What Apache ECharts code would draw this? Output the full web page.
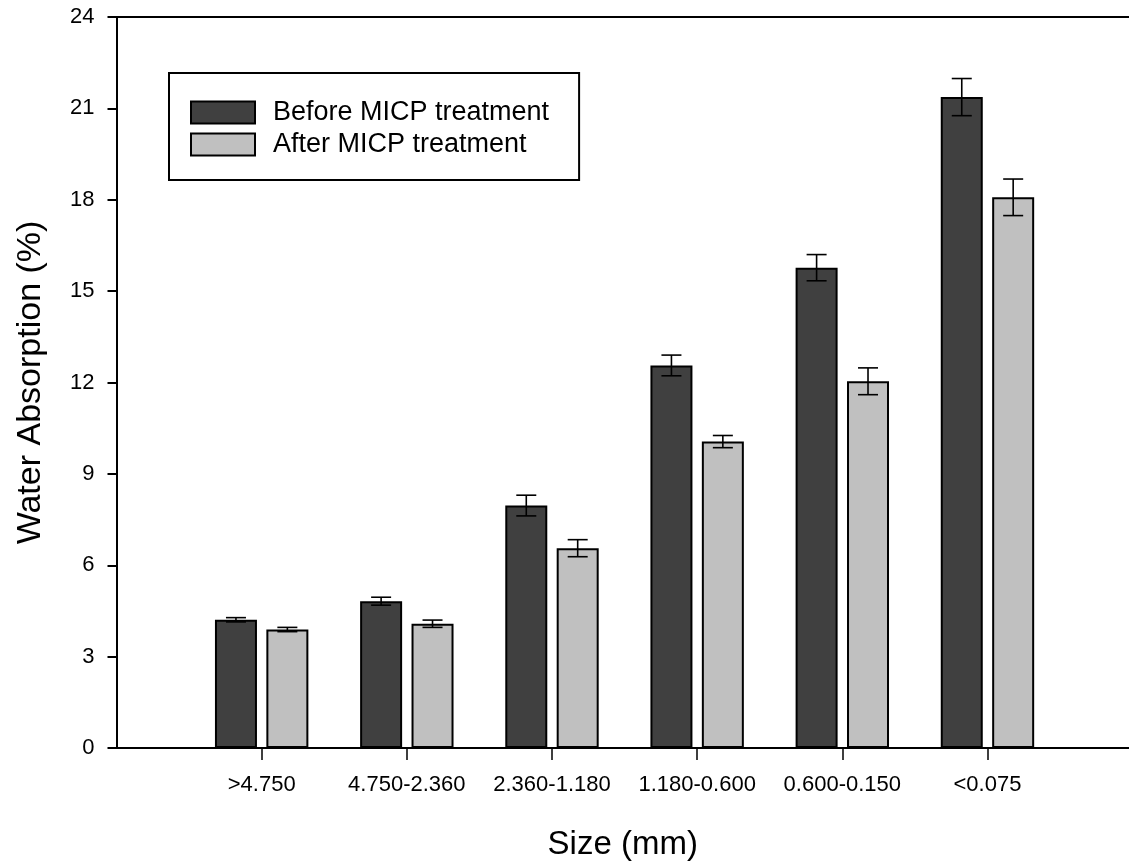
<!DOCTYPE html>
<html>
<head>
<meta charset="utf-8">
<script src="https://cdn.jsdelivr.net/npm/echarts@6/dist/echarts.min.js"></script>
<style>
html,body{margin:0;padding:0;background:#fff;}
#chart{width:1129px;height:866px;}
</style>
</head>
<body>
<div id="chart"></div>
<script>
const categories = ['>4.750', '4.750-2.360', '2.360-1.180', '1.180-0.600', '0.600-0.150', '<0.075'];
const beforeValues = [4.21, 4.82, 7.96, 12.56, 15.77, 21.37];
const beforeErrors = [0.07, 0.13, 0.34, 0.34, 0.43, 0.61];
const afterValues = [3.89, 4.08, 6.56, 10.06, 12.04, 18.08];
const afterErrors = [0.07, 0.12, 0.28, 0.20, 0.44, 0.60];
const yTicks = [0, 3, 6, 9, 12, 15, 18, 21, 24];

const FONT = 'Liberation Sans, Arial, sans-serif';
const positions = categories.map((c, i) => i + 1);
const X_MAX = 6.975;
const BAR_W = 42;
const BAR_GAP = 0.224;
const OFFSET = (BAR_W + BAR_W * BAR_GAP) / 2;

function barData(vals) { return vals.map((v, i) => [positions[i], v]); }
function errData(vals, errs) { return vals.map((v, i) => [positions[i], v, errs[i]]); }

function errRender(offset) {
  return function (params, api) {
    const x = api.value(0), y = api.value(1), e = api.value(2);
    const c = api.coord([x, y]);
    const cx = c[0] + offset;
    const top = api.coord([x, y + e])[1];
    const bot = api.coord([x, y - e])[1];
    const hw = 10;
    const style = { stroke: '#000', lineWidth: 1.6 };
    return {
      type: 'group',
      children: [
        { type: 'line', shape: { x1: cx, y1: top, x2: cx, y2: bot }, style: style },
        { type: 'line', shape: { x1: cx - hw, y1: top, x2: cx + hw, y2: top }, style: style },
        { type: 'line', shape: { x1: cx - hw, y1: bot, x2: cx + hw, y2: bot }, style: style }
      ]
    };
  };
}

const chart = echarts.init(document.getElementById('chart'));
chart.setOption({
  animation: false,
  backgroundColor: '#fff',
  textStyle: { fontFamily: FONT, color: '#000' },
  grid: { left: 116.5, right: 0, top: 17, bottom: 117, show: false },
  legend: {
    orient: 'vertical',
    left: 169, top: 73,
    padding: [26, 30, 22, 21],
    borderColor: '#000', borderWidth: 2,
    itemWidth: 64, itemHeight: 22, itemGap: 5,
    icon: 'rect',
    textStyle: { fontFamily: FONT, fontSize: 27, color: '#000', padding: [0, 0, 0, 13] },
    data: ['Before MICP treatment', 'After MICP treatment']
  },
  xAxis: [{
    type: 'value', min: 0, max: X_MAX, position: 'bottom',
    splitLine: { show: false },
    axisLine: { onZero: false, lineStyle: { color: '#000', width: 2 } },
    axisTick: { show: true, length: 12, inside: false, customValues: positions, lineStyle: { color: '#000', width: 1.5 } },
    axisLabel: {
      customValues: positions,
      formatter: v => categories[Math.round(v) - 1] || '',
      fontSize: 22, color: '#000', margin: 26, fontFamily: FONT
    },
    name: 'Size (mm)', nameLocation: 'middle', nameGap: 80,
    nameTextStyle: { fontSize: 33, color: '#000', fontFamily: FONT }
  }, {
    type: 'value', min: 0, max: X_MAX, position: 'top',
    splitLine: { show: false },
    axisLine: { show: true, onZero: false, lineStyle: { color: '#000', width: 2 } },
    axisTick: { show: false },
    axisLabel: { show: false }
  }],
  yAxis: {
    type: 'value', min: 0, max: 24, interval: 3,
    splitLine: { show: false },
    axisLine: { show: true, lineStyle: { color: '#000', width: 2 } },
    axisTick: { show: true, length: 9, lineStyle: { color: '#000', width: 2 } },
    axisLabel: { fontSize: 22, color: '#000', margin: 22, fontFamily: FONT,
      formatter: v => (yTicks.indexOf(v) >= 0 ? String(v) : '') },
    name: 'Water Absorption (%)', nameLocation: 'middle', nameGap: 69, nameRotate: 90,
    nameTextStyle: { fontSize: 34, color: '#000', fontFamily: FONT }
  },
  series: [
    {
      name: 'Before MICP treatment', type: 'bar',
      data: barData(beforeValues),
      barWidth: BAR_W, barGap: (BAR_GAP * 100) + '%',
      itemStyle: { color: '#404040', borderColor: '#000', borderWidth: 2 }
    },
    {
      name: 'After MICP treatment', type: 'bar',
      data: barData(afterValues),
      barWidth: BAR_W, barGap: (BAR_GAP * 100) + '%',
      itemStyle: { color: '#c0c0c0', borderColor: '#000', borderWidth: 2 }
    },
    {
      type: 'custom', name: 'errBefore', z: 5,
      renderItem: errRender(-OFFSET),
      data: errData(beforeValues, beforeErrors)
    },
    {
      type: 'custom', name: 'errAfter', z: 5,
      renderItem: errRender(OFFSET),
      data: errData(afterValues, afterErrors)
    }
  ]
});
</script>
</body>
</html>
